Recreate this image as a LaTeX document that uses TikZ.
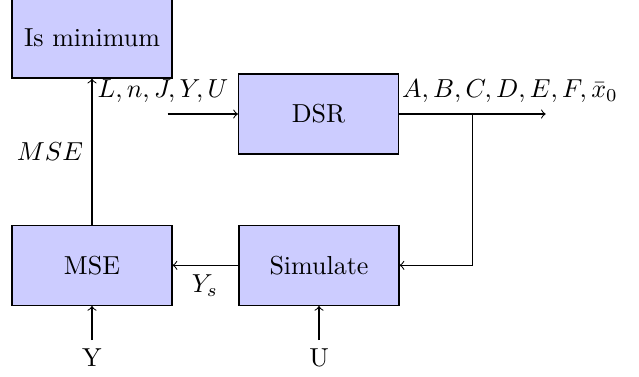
\documentclass[tikz,border=0pt]{standalone}
\usetikzlibrary{arrows}
\begin{document}
\begin{tikzpicture}[x=0.3846pt,y=-0.3846pt,
  blk/.style={draw, fill=blue!20, minimum width=61.5pt, minimum height=30.8pt, inner sep=0pt, line width=0.5pt},
  lbl/.style={inner sep=0pt},
  conn/.style={->, >=to, line width=0.4pt}]
\useasboundingbox (0,0) rectangle (639,376);
\begin{scope}
\clip (0,0) rectangle (639,376);
\node[blk] (ismin) at (92,38) {Is minimum};
\end{scope}
\node[blk] (dsr) at (318.5,114) {DSR};
\node[blk] (sim) at (319,265.3) {Simulate};
\node[blk] (mse) at (92,265.3) {MSE};
\coordinate (lin) at (167.7,114);
\coordinate (outend) at (545.7,114);
\coordinate (br) at (472.7,114);
\coordinate (yin) at (92,340);
\coordinate (uin) at (319,340);
\node[lbl] (Y) at (92,358) {Y};
\node[lbl] (U) at (319,358) {U};
\node[lbl, anchor=south] (linlbl) at (163,103) {$L,n,J,Y,U$};
\node[lbl, anchor=south] (outlbl) at (510,103) {$A,B,C,D,E,F,\bar{x}_0$};
\node[lbl] (mselbl) at (50,151.5) {$MSE$};
\node[lbl] (yslbl) at (205,286) {$Y_s$};
\draw[conn] (lin) -- (dsr.west);
\draw[conn] (dsr.east) -- (outend);
\draw[conn] (br) |- (sim.east);
\draw[conn] (sim.west) -- (mse.east);
\draw[conn] (mse.north) -- (ismin.south);
\draw[conn] (yin) -- (mse.south);
\draw[conn] (uin) -- (sim.south);
\end{tikzpicture}
\end{document}
